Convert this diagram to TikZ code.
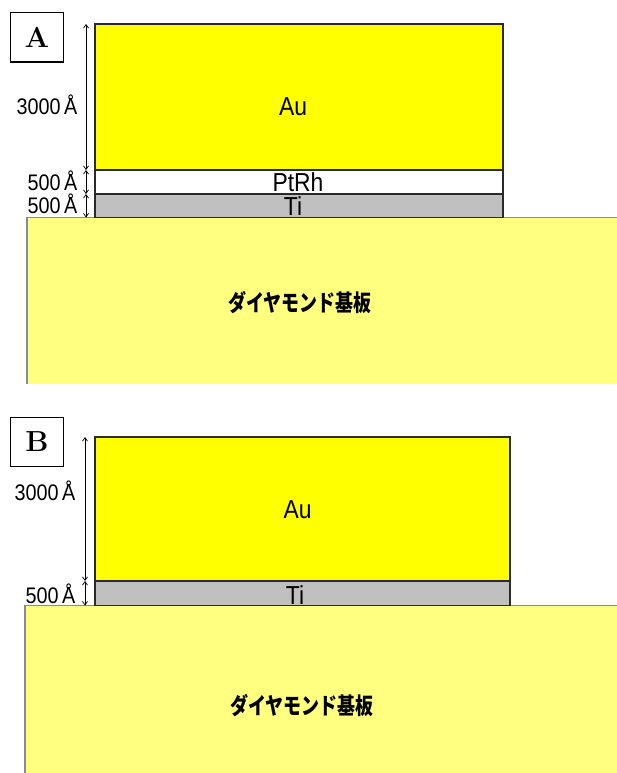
\documentclass[tikz,border=0pt]{standalone}
\usepackage{fontspec}
\usepackage{graphicx}
\usetikzlibrary{arrows.meta}
\newfontfamily\lsans{Liberation Sans}
\newfontfamily\jpfont{Noto Sans CJK JP}
\definecolor{auyellow}{HTML}{FFFF00}
\definecolor{tigray}{HTML}{C0C0C0}
\definecolor{subyellow}{HTML}{FFFF80}
\definecolor{edgedark}{HTML}{2A2A2A}
\definecolor{subedge}{HTML}{8A8A8A}
\newcommand{\narrowtxt}[2]{\scalebox{#1}[1]{#2}}
\tikzset{
  layer/.style={draw=edgedark, line width=1.5pt, inner sep=0pt, outer sep=0pt, anchor=north west},
  subfill/.style={fill=subyellow, draw=none, inner sep=0pt, outer sep=0pt, anchor=north west},
  subline/.style={draw=subedge, line width=1.5pt},
  panelbox/.style={draw=black, line width=1.2pt, inner sep=0pt, outer sep=0pt, anchor=north west, minimum width=52.6pt},
  panelletter/.style={font=\fontsize{29}{29}\selectfont\bfseries, anchor=center},
  lbl/.style={font=\lsans\fontsize{26}{26}\selectfont, anchor=base, inner sep=0pt},
  dimlbl/.style={font=\lsans\fontsize{22.5}{22.5}\selectfont, anchor=base, inner sep=0pt},
  jplbl/.style={font=\jpfont\bfseries\fontsize{23}{23}\selectfont, anchor=center, inner sep=0pt},
  dim/.style={line width=0.7pt, {Straight Barb[length=3.5pt,width=5pt]}-{Straight Barb[length=3.5pt,width=5pt]}}
}
\begin{document}
\begin{tikzpicture}[x=1pt,y=-1pt]
\useasboundingbox (0,0) rectangle (616,773);
\fill[white] (0,0) rectangle (616,773);

% ---------------- Panel A ----------------
\node[subfill, minimum width=600pt, minimum height=166pt] (subA) at (27,217.5) {};
\draw[subline] (subA.south west) -- (subA.north west) -- (subA.north east);
\node[layer, fill=auyellow, minimum width=408pt, minimum height=146pt] (auA) at (95,24) {};
\node[layer, fill=white, minimum width=408pt, minimum height=24pt] (ptA) at (95,170) {};
\node[layer, fill=tigray, minimum width=408pt, minimum height=23.5pt] (tiA) at (95,194) {};

\node[lbl] (tauA) at (293,115.3) {\narrowtxt{0.88}{Au}};
\node[lbl] (tptA) at (298,191) {\narrowtxt{0.88}{PtRh}};
\node[lbl] (ttiA) at (293,215) {\narrowtxt{0.88}{Ti}};
\node[jplbl] (tsubA) at (300,302.5) {\narrowtxt{0.78}{ダイヤモンド基板}};

\draw[dim] ([xshift=-9pt]auA.north west) -- ([xshift=-9pt]auA.south west);
\draw[dim] ([xshift=-9pt]ptA.north west) -- ([xshift=-9pt]ptA.south west);
\draw[dim] ([xshift=-9pt]tiA.north west) -- ([xshift=-9pt]tiA.south west);
\node[dimlbl] (d1A) at (47,115) {\narrowtxt{0.88}{3000\,Å}};
\node[dimlbl] (d2A) at (52.5,190) {\narrowtxt{0.88}{500\,Å}};
\node[dimlbl] (d3A) at (52.5,213.5) {\narrowtxt{0.88}{500\,Å}};

\node[panelbox, minimum height=49.3pt] (boxA) at (10.7,12.7) {};
\node[panelletter] (letA) at (boxA.center) {A};

% ---------------- Panel B ----------------
\node[subfill, minimum width=600pt, minimum height=170pt] (subB) at (25,605.5) {};
\draw[subline] (subB.south west) -- (subB.north west) -- (subB.north east);
\node[layer, fill=auyellow, minimum width=415pt, minimum height=144pt] (auB) at (95,437) {};
\node[layer, fill=tigray, minimum width=415pt, minimum height=24.5pt] (tiB) at (95,581) {};

\node[lbl] (tauB) at (297.5,518.3) {\narrowtxt{0.88}{Au}};
\node[lbl] (ttiB) at (295,604) {\narrowtxt{0.88}{Ti}};
\node[jplbl] (tsubB) at (302,706) {\narrowtxt{0.78}{ダイヤモンド基板}};

\draw[dim] ([xshift=-10pt]auB.north west) -- ([xshift=-10pt]auB.south west);
\draw[dim] ([xshift=-10pt]tiB.north west) -- ([xshift=-10pt]tiB.south west);
\node[dimlbl] (d1B) at (45,500) {\narrowtxt{0.88}{3000\,Å}};
\node[dimlbl] (d2B) at (50.5,603.5) {\narrowtxt{0.88}{500\,Å}};

\node[panelbox, minimum height=49.4pt] (boxB) at (10.7,417.3) {};
\node[panelletter] (letB) at (boxB.center) {B};
\end{tikzpicture}
\end{document}
